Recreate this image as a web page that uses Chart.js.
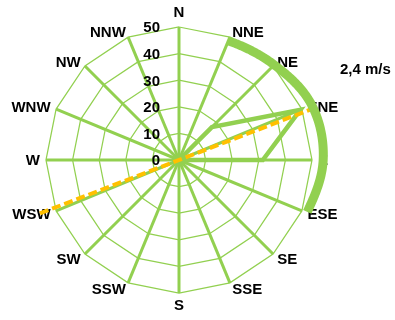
<!DOCTYPE html>
<html>
<head>
<meta charset="utf-8">
<style>
  html, body { margin: 0; padding: 0; background: #fff; }
  #wrap { position: relative; width: 395px; height: 320px; }
</style>
</head>
<body>
<div id="wrap"><canvas id="rose"></canvas></div>
<script src="https://cdn.jsdelivr.net/npm/chart.js@4/dist/chart.umd.min.js"></script>
<script>
const directions = ['N', 'NNE', 'NE', 'ENE', 'E', 'ESE', 'SE', 'SSE', 'S', 'SSW', 'SW', 'WSW', 'W', 'WNW', 'NW', 'NNW'];
const frequency = [0, 0, 17.5, 49.4, 31.5, 0, 0, 0, 0, 0, 0, 0, 0, 0, 0, 0];
const tickValues = [0, 10, 20, 30, 40, 50];

// sector arc outside the rose: bearings (deg) and reach in scale units
const sectorBearing = [22.5, 45, 67.5, 90, 112];
const sectorReach = [48.5, 50.6, 54, 54.2, 52];

// mean wind direction line: bearing (deg) and reach forward / backward
const meanBearing = 69;
const meanReach = [53.2, 56];
const speedLabel = '2,4 m/s';

const GREEN = '#92d050';
const ORANGE = '#ffc000';
const FONT = "bold 15px 'Liberation Sans', Arial, sans-serif";
const CAP = 5.4; // half cap height at 15px

function posAt(scale, bearingDeg, value) {
    const ang = bearingDeg * Math.PI / 180 - Math.PI / 2;
    const d = scale.getDistanceFromCenterForValue(value);
    return { x: scale.xCenter + Math.cos(ang) * d, y: scale.yCenter + Math.sin(ang) * d };
}

// smooth reach between the sector anchors (catmull-rom in polar form)
function reachAt(deg) {
    const n = sectorBearing.length;
    let i = 0;
    while (i < n - 2 && deg > sectorBearing[i + 1]) i++;
    const t = (deg - sectorBearing[i]) / (sectorBearing[i + 1] - sectorBearing[i]);
    const r0 = sectorReach[Math.max(i - 1, 0)], r1 = sectorReach[i];
    const r2 = sectorReach[i + 1], r3 = sectorReach[Math.min(i + 2, n - 1)];
    return 0.5 * (2 * r1 + (r2 - r0) * t + (2 * r0 - 5 * r1 + 4 * r2 - r3) * t * t + (3 * r1 - r0 - 3 * r2 + r3) * t * t * t);
}

const roseExtras = {
    id: 'roseExtras',
    afterDraw(chart) {
        const scale = chart.scales.r;
        const ctx = chart.ctx;
        ctx.save();
        ctx.font = FONT;
        ctx.fillStyle = '#000';
        ctx.textBaseline = 'alphabetic';

        // direction labels, placed outside each spoke end
        ctx.textAlign = 'center';
        directions.forEach((lbl, i) => {
            const p = scale.getPointPosition(i, scale.getDistanceFromCenterForValue(scale.max));
            const ang = scale.getIndexAngle(i) - Math.PI / 2;
            const dx = Math.cos(ang), dy = Math.sin(ang);
            const w = ctx.measureText(lbl).width;
            let x = p.x + dx * 6, y = p.y + dy * 6;
            if (Math.abs(dx) > 0.01) x += Math.sign(dx) * w / 2;
            else y += dy < 0 ? -9.5 : 5.6;
            ctx.fillText(lbl, x, y + CAP);
        });

        // tick labels, right aligned next to the north spoke
        ctx.textAlign = 'right';
        tickValues.forEach(v => {
            ctx.fillText(String(v), scale.xCenter - 19, scale.yCenter - scale.getDistanceFromCenterForValue(v) + CAP);
        });

        // mean direction (dashed)
        const a = posAt(scale, meanBearing, meanReach[0]);
        const b = posAt(scale, meanBearing + 180, meanReach[1]);
        ctx.strokeStyle = ORANGE;
        ctx.lineWidth = 4;
        ctx.setLineDash([9, 4]);
        ctx.beginPath();
        ctx.moveTo(b.x, b.y);
        ctx.lineTo(a.x, a.y);
        ctx.stroke();
        ctx.setLineDash([]);

        // sector arc
        const first = sectorBearing[0], last = sectorBearing[sectorBearing.length - 1];
        ctx.strokeStyle = GREEN;
        ctx.lineWidth = 9;
        ctx.lineCap = 'butt';
        ctx.lineJoin = 'round';
        ctx.beginPath();
        for (let deg = first; deg <= last + 0.001; deg += 0.5) {
            const p = posAt(scale, deg, reachAt(deg));
            if (deg === first) ctx.moveTo(p.x, p.y); else ctx.lineTo(p.x, p.y);
        }
        ctx.stroke();

        // speed label
        ctx.textAlign = 'left';
        ctx.fillText(speedLabel, scale.xCenter + 161, scale.yCenter - 91 + CAP);
        ctx.restore();
    }
};

new Chart(document.getElementById('rose'), {
    type: 'radar',
    data: {
        labels: directions,
        datasets: [{
            data: frequency,
            borderColor: GREEN,
            borderWidth: 4.5,
            backgroundColor: 'transparent',
            fill: false,
            pointRadius: 0,
            pointHoverRadius: 0
        }]
    },
    options: {
        responsive: true,
        maintainAspectRatio: false,
        animation: false,
        layout: { padding: { left: 46, right: 82, top: 27, bottom: 26 } },
        plugins: {
            legend: { display: false },
            tooltip: { enabled: false }
        },
        scales: {
            r: {
                min: 0,
                max: 50,
                ticks: { stepSize: 10, display: false },
                grid: { color: GREEN, lineWidth: 1.25 },
                angleLines: { color: GREEN, lineWidth: 3 },
                pointLabels: { display: false }
            }
        }
    },
    plugins: [roseExtras]
});
</script>
</body>
</html>
